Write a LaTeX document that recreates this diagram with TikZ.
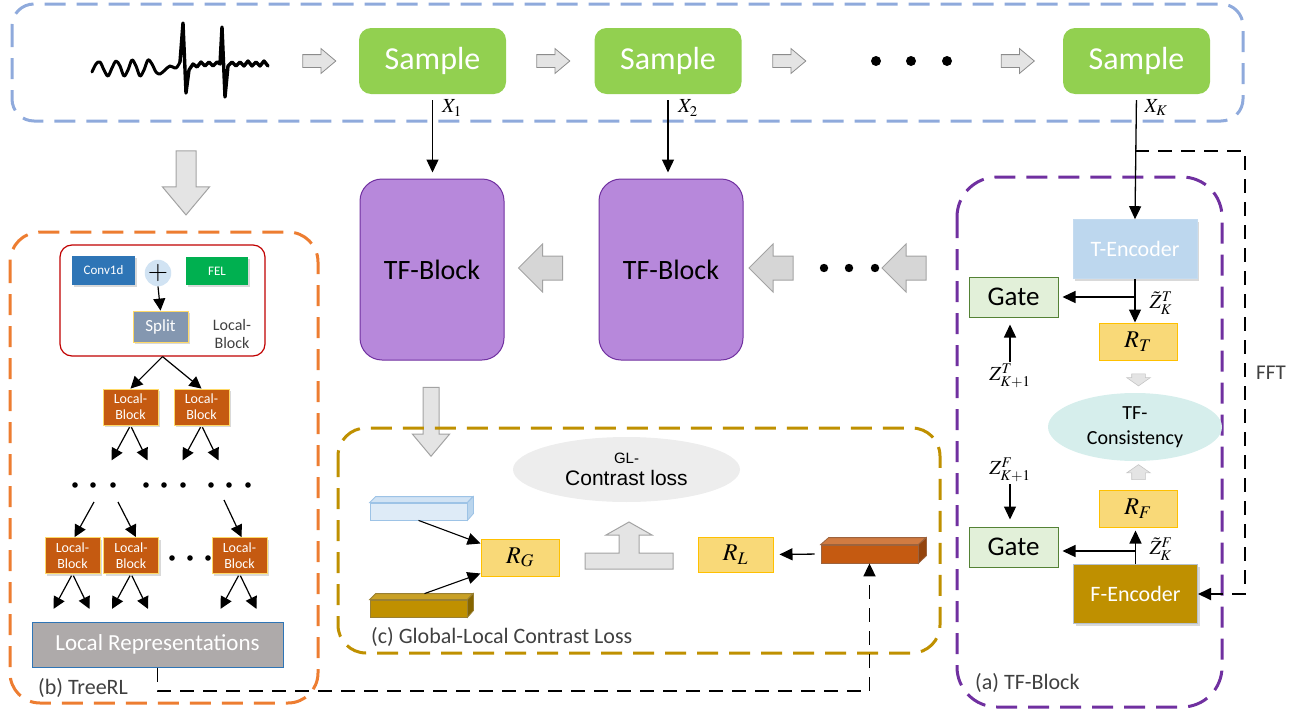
\documentclass[tikz,border=0pt]{standalone}
\usepackage{mathptmx}
\usepackage{fontspec}
\setmainfont{Carlito}
\newfontfamily\arialfont{Liberation Sans}
\usetikzlibrary{positioning,shapes.geometric,shapes.arrows,arrows.meta,shadows}

\definecolor{dblue}{HTML}{8FAADC}
\definecolor{sgreen}{HTML}{92D050}
\definecolor{purp}{HTML}{7030A0}
\definecolor{lpurp}{HTML}{B788DB}
\definecolor{lgray}{HTML}{E4E4E4}
\definecolor{mgray}{HTML}{D6D6D6}
\definecolor{agray}{HTML}{8C8C8C}
\definecolor{orng}{HTML}{ED7D31}
\definecolor{dred}{HTML}{C00000}
\definecolor{cblue}{HTML}{2E75B6}
\definecolor{fgreen}{HTML}{00B050}
\definecolor{sgray}{HTML}{8497B0}
\definecolor{yel}{HTML}{FFD966}
\definecolor{brwn}{HTML}{C55A11}
\definecolor{dbrwn}{HTML}{843C0C}
\definecolor{lrgray}{HTML}{AEAAAA}
\definecolor{gold}{HTML}{BF9000}
\definecolor{dgold}{HTML}{7F6000}
\definecolor{rbox}{HTML}{F9D978}
\definecolor{rbord}{HTML}{FFC000}
\definecolor{lblue}{HTML}{DEEBF7}
\definecolor{bblue}{HTML}{9DC3E6}
\definecolor{tblue}{HTML}{BDD7EE}
\definecolor{gatef}{HTML}{E2F0D9}
\definecolor{gated}{HTML}{548235}
\definecolor{teal}{HTML}{D6EEEC}
\definecolor{glgray}{HTML}{EDEDED}
\definecolor{txtgray}{HTML}{404040}

\newcommand{\fsz}[2]{\fontsize{#1}{#2}\selectfont}

\begin{document}
\begin{tikzpicture}[x=1pt,y=-1pt,inner sep=0pt,
	arr/.style={-{Triangle[length=13pt,width=12pt]},line width=1.3pt},
	tarr/.style={-{Triangle[length=12pt,width=12pt]},line width=1.2pt},
	dline/.style={line width=1.8pt,dash pattern=on 14pt off 9pt},
	frame/.style={line width=3pt,dash pattern=on 21pt off 11pt},
	sample/.style={rounded corners=12pt,fill=sgreen,text=white,minimum width=147pt,minimum height=66pt,font=\fsz{32}{36}},
	tfblock/.style={draw=purp,line width=1pt,fill=lpurp,rounded corners=22pt,minimum width=144pt,minimum height=181pt,font=\fsz{28}{32}},
	blockarrow/.style={single arrow,inner xsep=0pt,draw=agray!80,line width=1pt},
	rarrow/.style={blockarrow,fill=lgray,line width=.8pt,draw=agray,inner ysep=6pt,minimum height=33pt,minimum width=24pt,single arrow head extend=6pt,single arrow tip angle=80},
	larrow/.style={blockarrow,rotate=180,fill=mgray,inner ysep=11.5pt,minimum height=44pt,minimum width=47pt,single arrow head extend=12pt,single arrow tip angle=90},
	darrow/.style={blockarrow,rotate=270,fill=lgray,single arrow tip angle=80},
	sarrow/.style={blockarrow,draw=agray!50,fill=lgray,line width=.6pt,inner ysep=6.5pt,minimum width=23pt,single arrow head extend=5pt,single arrow tip angle=110},
	shadowed/.style={drop shadow={opacity=.3,shadow xshift=2pt,shadow yshift=-2pt}},
	lblock/.style={fill=brwn,draw=yel,line width=.8pt,text=white,align=center,minimum width=55pt,minimum height=36pt,font=\fsz{14}{16},shadowed},
	rvec/.style={fill=rbox,draw=rbord,line width=1pt,minimum width=78pt,minimum height=37pt,font=\fsz{24}{26}},
	gate/.style={fill=gatef,draw=gated,line width=1pt,minimum width=89pt,minimum height=40pt,font=\fsz{27}{30}},
	enc/.style={text=white,minimum width=124pt,minimum height=59pt,font=\fsz{22}{26},shadowed},
	mlabel/.style={font=\fsz{20}{24}},
	seclabel/.style={text=txtgray,font=\fsz{22}{26}}]

	\useasboundingbox (0,0) rectangle (1299,712);

	% input sequence
	\draw[frame,draw=dblue,rounded corners=22pt] (12,4) rectangle (1243,121);
	\draw[line width=3pt,line join=round,line cap=round] plot[smooth,tension=0.55] coordinates {
		(92,72) (96,64) (100,62) (104,70) (108,76) (112,68) (116,61) (120,66) (124,76) (128,70)
		(132,60) (136,66) (140,76) (144,70) (148,60) (152,64) (156,72) (160,74) (165,70) (170,66)
		(176,68) (180,62)};
	\draw[line width=3.4pt,line join=round,line cap=round] (180,62) -- (183,23) -- (186,93) -- (189,70)
		-- (193,64) -- (197,67) -- (201,62) -- (205,66) -- (209,62) -- (213,66) -- (217,62) -- (220,64)
		-- (222,27) -- (225,97) -- (228,66) -- (232,62) -- (236,66) -- (240,62) -- (244,66) -- (248,61)
		-- (252,66) -- (256,62) -- (260,66) -- (264,61) -- (268,66);

	\node[sample] (s1) at (432.5,61) {Sample};
	\node[sample] (s2) at (668,61) {Sample};
	\node[sample] (sk) at (1136.5,61) {Sample};
	\foreach \n/\x in {1/315.5,2/549.5,3/785.5,4/1014}
		\node[rarrow] (ra\n) at (\x,61) {};
	\foreach \x in {876,911,947}
		\fill (\x,61) circle (5);

	% TF-Blocks
	\node[tfblock] (tf1) at (432,269.5) {TF-Block};
	\node[tfblock] (tf2) at (671,269.5) {TF-Block};
	\node[larrow] (la1) at (546.5,268) {};
	\node[larrow] (la2) at (777,268) {};
	\node[larrow] (la3) at (910,268) {};
	\foreach \x in {824,849,875}
		\fill (\x,268) circle (4.2);

	\draw[arr,shorten <=6pt,shorten >=6pt] (s1.south) -- (s1.south |- tf1.north);
	\draw[arr,shorten <=6pt,shorten >=6pt] (s2.south) -- (s2.south |- tf2.north);
	\node[mlabel] (x1) at (452,108) {$X_1$};
	\node[mlabel] (x2) at (688,108) {$X_2$};
	\node[mlabel] (xk) at (1156,108) {$X_K$};

	\node[darrow,inner ysep=9.5pt,minimum height=64pt,minimum width=46pt,single arrow head extend=13.5pt] (dab) at (186,177) {};
	\node[darrow,inner ysep=7.5pt,minimum height=69pt,minimum width=36pt,single arrow head extend=10.5pt] (dac) at (431,417) {};

	% (b) TreeRL
	\draw[frame,draw=orng,rounded corners=30pt] (10,232) rectangle (318,703);
	\node[draw=dred,line width=1.2pt,rounded corners=12pt,minimum width=205pt,minimum height=111pt] (lbk) at (162.5,300.5) {};
	\node[fill=cblue,text=white,minimum width=63pt,minimum height=29pt,font=\fsz{13}{15},shadowed] (conv) at (103.5,270.5) {Conv1d};
	\node[circle,fill=tblue!70,minimum size=24pt,font=\fsz{26}{26}] (plus) at (158,273) {$+$};
	\node[fill=fgreen,text=white,minimum width=62pt,minimum height=28pt,font=\fsz{13}{15},shadowed] (fel) at (217,271) {FEL};
	\node[fill=sgray,draw=yel,line width=.8pt,text=white,minimum width=55pt,minimum height=31pt,font=\fsz{17}{19},shadowed] (split) at (160.5,326.5) {Split};
	\node[text=txtgray,align=center,font=\fsz{16}{18}] (lbname) at (232,334) {Local-\\Block};
	\draw[tarr] (plus.south) -- (split.north);

	\node[lblock] (lb1) at (130.5,407) {Local-\\Block};
	\node[lblock] (lb2) at (201.5,407) {Local-\\Block};
	\draw[tarr] (lbk.south) -- (lb1.north);
	\draw[tarr] (lbk.south) -- (lb2.north);
	\foreach \x in {75,93,113,146,164,183,211,229,248}
		\fill (\x,485) circle (2.8);
	\coordinate (d1) at (94,502);
	\coordinate (d2) at (118,502);
	\coordinate (d3) at (224,500);

	\node[lblock] (lb3) at (72.5,555.5) {Local-\\Block};
	\node[lblock] (lb4) at (131,555.5) {Local-\\Block};
	\node[lblock] (lb5) at (239.5,555.5) {Local-\\Block};
	\foreach \x in {172,190,208}
		\fill (\x,558) circle (2.8);
	\draw[tarr] (d1) -- ([xshift=2pt]lb3.north);
	\draw[tarr] (d2) -- ([xshift=5pt]lb4.north);
	\draw[tarr] (d3) -- ([xshift=2pt]lb5.north);

	\foreach \b in {lb1,lb2,lb3,lb4,lb5} {
		\coordinate (\b-l) at ([shift={(-19,35)}]\b.south);
		\coordinate (\b-r) at ([shift={(17,35)}]\b.south);
		\draw[tarr,shorten <=2pt] (\b.south) -- (\b-l);
		\draw[tarr,shorten <=2pt] (\b.south) -- (\b-r);
	}

	\node[fill=lrgray,draw=cblue,line width=1pt,text=white,minimum width=251pt,minimum height=45pt,font=\fsz{23}{26}] (lr) at (157.5,644.5) {Local Representations};
	\node[seclabel,anchor=west] (blabel) at (38,688) {(b) TreeRL};

	% (c) Global-Local Contrast Loss
	\draw[frame,draw=gold,rounded corners=28pt] (338,428) rectangle (940,653);
	\node[ellipse,fill=glgray,minimum width=227pt,minimum height=65pt,align=center] (gl) at (626.5,469.5)
		{\arialfont\fsz{15}{18}GL-\\[5pt]\arialfont\fsz{21}{24}Contrast loss};

	\node[fill=lblue,draw=bblue,line width=.8pt,minimum width=97pt,minimum height=17pt] (bbar) at (418.5,511.5) {};
	\filldraw[fill=lblue!80!bblue,draw=bblue,line width=.8pt] (bbar.north west) -- ++(6,-6) -- ++(97,0) -- (bbar.north east) -- cycle;
	\filldraw[fill=bblue!70,draw=bblue,line width=.8pt] (bbar.north east) -- ++(6,-6) -- ++(0,17) -- (bbar.south east) -- cycle;

	\node[fill=gold,draw=dgold!80,line width=.8pt,minimum width=97pt,minimum height=17pt] (gbar) at (418.5,608.5) {};
	\filldraw[fill=gold!85!white,draw=dgold!80,line width=.8pt] (gbar.north west) -- ++(6,-6) -- ++(97,0) -- (gbar.north east) -- cycle;
	\filldraw[fill=gold!70!black,draw=dgold!80,line width=.8pt] (gbar.north east) -- ++(6,-6) -- ++(0,17) -- (gbar.south east) -- cycle;

	\node[fill=brwn,draw=dbrwn!80,line width=.8pt,minimum width=97pt,minimum height=18pt] (obar) at (869.5,554) {};
	\filldraw[fill=brwn!80!white,draw=dbrwn!80,line width=.8pt] (obar.north west) -- ++(8,-7) -- ++(97,0) -- (obar.north east) -- cycle;
	\filldraw[fill=brwn!75!black,draw=dbrwn!80,line width=.8pt] (obar.north east) -- ++(8,-7) -- ++(0,18) -- (obar.south east) -- cycle;

	\node[rvec] (rg) at (520,557.5) {$R_G$};
	\node[rvec,minimum width=75pt,minimum height=35pt] (rl) at (735.5,554.5) {$R_L$};
	\draw[arr,line width=1.1pt] (bbar.south) -- ([yshift=14pt]rg.west);
	\draw[arr,line width=1.1pt] ([xshift=6pt,yshift=6pt]gbar.north) -- ([yshift=-16pt]rg.west);
	\draw[arr,shorten <=6pt,shorten >=6pt] (obar.west) -- (rl.east);

	\filldraw[fill=lgray,draw=agray!80,line width=1pt] (585,569) -- (585,553) -- (619,553) -- (619,535)
		-- (606,535) -- (629,522) -- (652,535) -- (639,535) -- (639,553) -- (673,553) -- (673,569) -- cycle;
	\node[seclabel,anchor=west] (clabel) at (371,637) {(c) Global-Local Contrast Loss};

	\coordinate (lrdown) at (157.5,691);
	\draw[dline,-{Triangle[length=13pt,width=12pt]}] (lr.south) -- (lrdown) -| (obar.south);

	% (a) TF-Block
	\draw[frame,draw=purp,rounded corners=40pt] (957,177) rectangle (1222,707);
	\node[enc,fill=tblue,draw=bblue!60,line width=.6pt] (tenc) at (1135,249) {T-Encoder};
	\node[enc,fill=gold,draw=sgray!60,line width=1pt] (fenc) at (1135.5,594) {F-Encoder};
	\node[gate] (gate1) at (1013.5,297) {Gate};
	\node[gate] (gate2) at (1013.5,547) {Gate};
	\node[rvec] (rt) at (1138,341.5) {$R_T$};
	\node[rvec] (rf) at (1138,508.5) {$R_F$};
	\node[ellipse,fill=teal,minimum width=174pt,minimum height=68pt,align=center,font=\fsz{20}{25}] (tfc) at (1135,427) {TF-\\Consistency};
	\node[sarrow,rotate=270,minimum height=12pt] (sa1) at (1138.5,377.5) {};
	\node[sarrow,rotate=90,minimum height=15pt] (sa2) at (1138.5,474.5) {};

	\node[mlabel] (zt) at (1010,376) {$Z_{K+1}^T$};
	\node[mlabel] (zf) at (1010,470) {$Z_{K+1}^F$};
	\node[mlabel] (zkt) at (1161,303) {$\tilde{Z}_K^T$};
	\node[mlabel] (zkf) at (1161,549) {$\tilde{Z}_K^F$};

	\draw[arr,shorten <=6pt] (sk.south) -- (tenc.north);
	\draw[arr] (tenc.south) -- (tenc.south |- rt.north);
	\draw[arr,shorten >=4pt] (tenc.south |- gate1.east) -- (gate1.east);
	\draw[arr,shorten <=2pt,shorten >=7pt] (zt.north) -- (zt.north |- gate1.south);
	\draw[arr,shorten <=2pt,shorten >=7pt] (zf.south) -- (zf.south |- gate2.north);
	\draw[arr,shorten >=3pt] (fenc.north) -- (fenc.north |- rf.south);
	\draw[arr,shorten >=4pt] ([yshift=-4pt]fenc.north |- gate2.east) -- ([yshift=-4pt]gate2.east);

	\coordinate (fft1) at (1135,151);
	\coordinate (fft2) at (1245,151);
	\draw[dline,-{Triangle[length=13pt,width=12pt]}] (fft1) -- (fft2) |- (fenc.east);
	\node[font=\fsz{21}{24},text=txtgray] (fft) at (1271,373) {FFT};
	\node[seclabel,anchor=west] (alabel) at (975,683) {(a) TF-Block};
\end{tikzpicture}
\end{document}
